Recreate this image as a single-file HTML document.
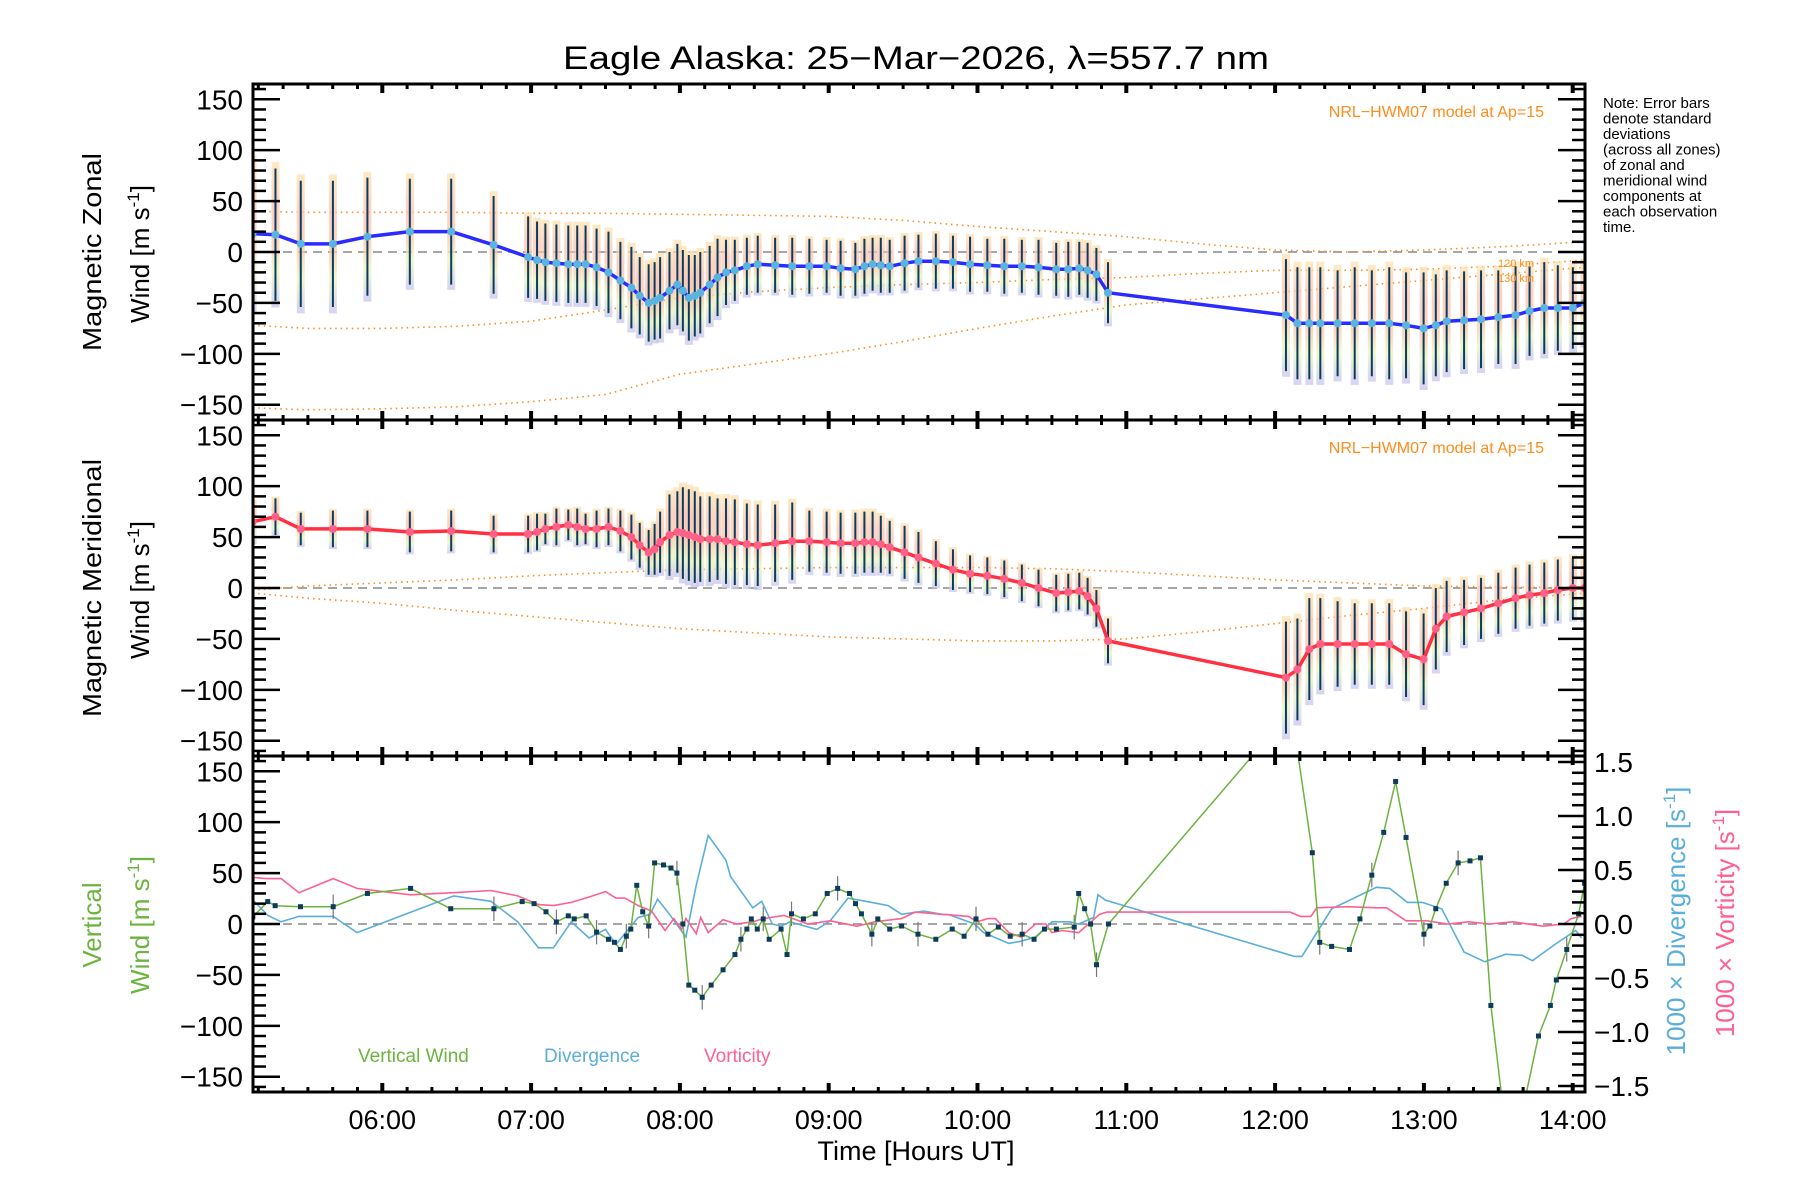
<!DOCTYPE html>
<html><head><meta charset="utf-8"><style>
html,body{margin:0;padding:0;background:#fff;}
svg{display:block;font-family:"Liberation Sans",sans-serif;}
</style></head><body>
<svg id="chart" width="1800" height="1200" viewBox="0 0 1800 1200" xmlns="http://www.w3.org/2000/svg">
<defs>
<linearGradient id="pastel" x1="0" y1="0" x2="0" y2="1">
<stop offset="0" stop-color="#fde3b0"/>
<stop offset="0.3" stop-color="#fbc2b0"/>
<stop offset="0.55" stop-color="#f9c8a8"/>
<stop offset="0.75" stop-color="#e6f5c0"/>
<stop offset="1" stop-color="#c8c4f0"/>
</linearGradient>
<clipPath id="clip0"><rect x="253" y="84" width="1332" height="336"/></clipPath>
<clipPath id="clip1"><rect x="253" y="420" width="1332" height="336"/></clipPath>
<clipPath id="clip2"><rect x="253" y="756" width="1332" height="336"/></clipPath>
</defs>
<text x="916" y="69" font-size="32" text-anchor="middle" textLength="706" lengthAdjust="spacingAndGlyphs">Eagle Alaska: 25−Mar−2026, λ=557.7 nm</text>
<g font-size="15">
<text x="1603" y="108">Note: Error bars</text>
<text x="1603" y="123.5">denote standard</text>
<text x="1603" y="139">deviations</text>
<text x="1603" y="154.5">(across all zones)</text>
<text x="1603" y="170">of zonal and</text>
<text x="1603" y="185.5">meridional wind</text>
<text x="1603" y="201">components at</text>
<text x="1603" y="216.5">each observation</text>
<text x="1603" y="232">time.</text>
</g>
<text transform="translate(101,252) rotate(-90)" font-size="26" text-anchor="middle" textLength="198" lengthAdjust="spacingAndGlyphs">Magnetic Zonal</text>
<text transform="translate(149,254) rotate(-90)" font-size="26" text-anchor="middle">Wind [m s<tspan dy="-10" font-size="17">-1</tspan><tspan dy="10">]</tspan></text>
<text transform="translate(101,588) rotate(-90)" font-size="26" text-anchor="middle" textLength="258" lengthAdjust="spacingAndGlyphs">Magnetic Meridional</text>
<text transform="translate(149,590) rotate(-90)" font-size="26" text-anchor="middle">Wind [m s<tspan dy="-10" font-size="17">-1</tspan><tspan dy="10">]</tspan></text>
<text transform="translate(101,925) rotate(-90)" font-size="26" fill="#6cb33f" text-anchor="middle">Vertical</text>
<text transform="translate(149,925) rotate(-90)" font-size="26" fill="#6cb33f" text-anchor="middle">Wind [m s<tspan dy="-10" font-size="17">-1</tspan><tspan dy="10">]</tspan></text>
<text transform="translate(1685,921) rotate(-90)" font-size="26" fill="#5aaedc" text-anchor="middle">1000 × Divergence [s<tspan dy="-10" font-size="17">-1</tspan><tspan dy="10">]</tspan></text>
<text transform="translate(1734,923) rotate(-90)" font-size="26" fill="#ff6090" text-anchor="middle">1000 × Vorticity [s<tspan dy="-10" font-size="17">-1</tspan><tspan dy="10">]</tspan></text>
<text x="916" y="1160" font-size="27" text-anchor="middle">Time [Hours UT]</text>
<text x="358" y="1062" font-size="19" fill="#6cb33f">Vertical Wind</text>
<text x="544" y="1062" font-size="19" fill="#5aaedc">Divergence</text>
<text x="704" y="1062" font-size="19" fill="#ff6090">Vorticity</text>
<g id="layer"></g>
</svg>
<script>
// ---- data ----
const obsTimesA = [5.128,5.282,5.452,5.668,5.900,6.185,6.463,6.748,6.980,7.096,7.250,7.366,7.520,7.674,7.790,7.867,7.983,8.060,8.137,8.253,8.369,8.523,8.755,8.986,9.179,9.295,9.410,9.603,9.835,10.066,10.298,10.529,10.684,10.799,10.877,12.073,12.150,12.304,12.535,12.767,12.998,13.153,13.384,13.616,13.809,14.001,14.079];
const zonalWindA = [18,17,8,8,15,20,20,7,-5,-10,-12,-12,-20,-35,-50,-45,-32,-45,-40,-25,-18,-12,-14,-14,-17,-12,-14,-9,-10,-13,-14,-17,-16,-22,-40,-62,-70,-70,-70,-70,-75,-68,-66,-62,-55,-55,-50];
const zonalErrA = [70,65,62,62,58,52,52,48,40,38,38,38,40,40,38,40,40,42,40,38,30,28,28,26,26,26,26,26,26,26,26,26,26,26,30,55,55,55,55,55,55,50,48,48,45,40,40];
const meridWindA = [65,70,58,58,58,55,56,53,53,58,62,58,60,50,35,45,55,52,48,48,45,42,46,45,44,45,40,30,18,12,5,-5,-3,-20,-52,-88,-80,-55,-55,-55,-70,-28,-20,-10,-5,0,0];
const meridErrA = [20,18,16,18,18,20,20,18,18,15,15,15,18,22,22,30,40,45,42,40,42,40,38,30,30,30,26,25,20,18,18,18,18,18,22,55,50,45,40,40,45,35,30,30,30,30,30];
const obsTimesB = [7.04,7.17,7.31,7.44,7.60,7.73,7.83,7.93,8.02,8.10,8.20,8.31,8.45,8.64,8.87,9.08,9.24,9.35,9.51,9.72,9.95,10.18,10.41,10.61,10.74,12.23,12.42,12.65,12.88,13.08,13.27,13.50,13.71,13.90];
const zonalWindB = [-8,-11,-12,-15,-28,-43,-48,-38,-38,-43,-32,-20,-14,-13,-14,-16,-14,-13,-11,-9,-12,-14,-15,-17,-18,-70,-70,-70,-72,-72,-67,-64,-58,-55];
const zonalErrB = [38,38,38,38,38,38,38,38,40,40,38,32,28,27,27,27,27,27,27,27,27,27,27,27,27,55,52,52,52,50,48,46,44,42];
const meridWindB = [55,60,60,58,56,42,38,52,54,50,48,46,43,44,46,44,45,43,35,24,14,9,0,-4,-8,-60,-55,-55,-65,-40,-24,-15,-7,-2];
const meridErrB = [18,18,18,18,20,22,25,40,45,45,42,42,40,38,30,30,30,28,26,22,18,18,18,18,18,50,42,40,42,40,32,30,30,30];
const vertTimes = [5.13,5.23,5.28,5.45,5.67,5.90,6.19,6.46,6.75,6.94,7.02,7.10,7.17,7.25,7.29,7.37,7.44,7.52,7.56,7.60,7.64,7.67,7.71,7.75,7.79,7.83,7.89,7.94,7.98,8.02,8.06,8.10,8.15,8.21,8.29,8.37,8.41,8.45,8.48,8.52,8.56,8.60,8.68,8.72,8.75,8.83,8.91,8.99,9.06,9.14,9.18,9.22,9.29,9.33,9.41,9.49,9.60,9.72,9.83,9.91,9.99,10.07,10.14,10.22,10.30,10.38,10.45,10.53,10.65,10.68,10.72,10.76,10.80,10.88,12.11,12.25,12.30,12.38,12.50,12.57,12.65,12.73,12.81,12.88,13.00,13.04,13.08,13.15,13.23,13.31,13.38,13.45,13.58,13.77,13.85,13.89,13.96,14.04,14.08];
const vertWind = [7,22,18,17,17,30,35,15,15,22,20,12,2,8,5,8,-8,-15,-18,-25,-12,-5,38,12,-2,60,58,55,50,0,-60,-65,-72,-60,-45,-30,-15,-5,5,-5,5,-15,-5,-30,10,5,10,30,35,30,20,10,-10,5,-5,-2,-10,-15,-5,-12,5,-10,-3,-12,-10,-15,-5,-5,-3,30,15,0,-40,0,210,70,-18,-22,-25,5,48,90,140,85,-10,-2,15,40,60,62,65,-80,-240,-110,-80,-55,-25,10,40];
const divTimes = [5.14,5.23,5.32,5.44,5.67,5.83,6.48,6.73,6.91,7.05,7.15,7.27,7.39,7.50,7.57,7.72,7.80,7.85,7.93,8.04,8.11,8.19,8.31,8.34,8.49,8.55,8.62,8.68,8.74,8.92,9.01,9.13,9.25,9.40,9.49,9.64,9.76,9.81,9.98,10.04,10.21,10.29,10.39,10.50,10.62,10.68,10.78,10.81,10.86,12.13,12.18,12.38,12.68,12.77,12.89,12.99,13.12,13.27,13.41,13.55,13.66,13.73,13.83,13.88,14.02,14.06];
const divergence = [0.21,0.08,0.02,0.07,0.07,-0.08,0.26,0.21,0.02,-0.22,-0.22,0.02,-0.13,-0.05,-0.19,0.06,0.09,0.23,0.09,-0.12,0.36,0.82,0.59,0.44,0.15,0.21,0,-0.02,0.02,-0.05,0.03,0.24,0.21,0.17,0.09,0.12,0.09,0.085,0,-0.08,-0.18,-0.16,-0.12,0.02,0.02,0,0.06,0.27,0.22,-0.30,-0.30,0.14,0.34,0.33,0.20,0.20,0.14,-0.26,-0.35,-0.28,-0.29,-0.34,-0.24,-0.19,-0.06,-0.13];
const vortTimes = [5.14,5.22,5.32,5.44,5.67,5.83,6.19,6.48,6.73,6.91,7.05,7.15,7.27,7.39,7.50,7.57,7.63,7.72,7.81,7.90,7.96,8.01,8.04,8.11,8.14,8.19,8.29,8.38,8.49,8.56,8.70,8.86,9.01,9.19,9.31,9.49,9.58,9.76,9.81,9.94,9.997,10.07,10.12,10.21,10.29,10.39,10.46,10.50,10.57,10.68,10.82,10.87,12.10,12.17,12.24,12.28,12.49,12.68,12.75,12.88,13.02,13.16,13.30,13.44,13.60,13.80,13.94,13.99,14.06];
const vorticity = [0.43,0.42,0.42,0.29,0.42,0.33,0.27,0.29,0.31,0.26,0.18,0.17,0.2,0.25,0.3,0.24,0.24,0.17,0.12,-0.06,0.05,-0.05,0.05,-0.09,0.06,-0.08,0.04,0,0.02,0.05,0.08,0,0.03,-0.02,0.02,0.05,0.11,0.09,0.085,0.07,0.02,0.05,0.05,-0.08,-0.12,0,0,-0.08,-0.06,-0.08,0.09,0.11,0.11,0.07,0.07,0.15,0.16,0.15,0.15,0.03,0.03,0,0.02,0,0.02,-0.02,0,0.05,0.07];
const modelTimes = [5.13,5.5,6.0,6.5,7.0,7.5,8.0,8.5,9.0,9.5,10.0,10.5,11.0,11.5,12.0,12.5,13.0,13.5,14.08];
const zonalModelUpper = [40,39,39,39,38,38,37,36,35,31,25,20,15,8,2,0,2,5,10];
const zonalModel120 = [-72,-75,-75,-73,-68,-57,-45,-39,-35,-32,-30,-27,-25,-21,-18,-18,-17,-14,-8];
const zonalModel130 = [-153,-155,-154,-152,-147,-140,-120,-110,-100,-88,-75,-63,-52,-46,-40,-34,-28,-22,-15];
const meridModelUpper = [-2,2,5,8,12,15,18,19,20,20,20,19,16,12,8,5,2,1,0];
const meridModelLower = [-5,-10,-15,-22,-28,-34,-40,-44,-48,-50,-52,-52,-50,-43,-35,-27,-20,-12,-5];
const leftTicks = [150,100,50,0,-50,-100,-150];
const rightTicks = [1.5,1.0,0.5,0.0,-0.5,-1.0,-1.5];
const hourLabels = ["06:00","07:00","08:00","09:00","10:00","11:00","12:00","13:00","14:00"];
const hourValues = [6,7,8,9,10,11,12,13,14];

// merge observation sets by time
const allT = obsTimesA.concat(obsTimesB);
const order = allT.map((t,i)=>i).sort((a,b)=>allT[a]-allT[b]);
const pick = (a,b)=>{const c=a.concat(b);return order.map(i=>c[i]);};
const obsTimes = order.map(i=>allT[i]);
const zonalWind = pick(zonalWindA,zonalWindB);
const zonalErr = pick(zonalErrA,zonalErrB);
const meridWind = pick(meridWindA,meridWindB);
const meridErr = pick(meridErrA,meridErrB);

// ---- axes ----
const NS='http://www.w3.org/2000/svg';
const L=253,R=1585,PH=336,tops=[84,420,756];
const X=t=>382.3+(t-6)*148.8;
const Y=(v,p)=>tops[p]+168-v*PH/330;
const YR=v=>tops[2]+168-v*108;
const layer=document.getElementById('layer');
function mk(tag,a,parent){const e=document.createElementNS(NS,tag);for(const k in a)e.setAttribute(k,a[k]);(parent||layer).appendChild(e);return e;}
function pts(ts,vs,f){return ts.map((t,i)=>X(t).toFixed(1)+','+f(vs[i]).toFixed(1)).join(' ');}

const panelNames=['zonal','meridional','vertical'];
const groups=[];
for(let p=0;p<3;p++){
  const g=mk('g',{'clip-path':'url(#clip'+p+')'});
  
  
  groups.push(g);
  const z=mk('line',{x1:L,x2:R,y1:Y(0,p),y2:Y(0,p),stroke:'#888','stroke-width':1.5,'stroke-dasharray':'9,6'},g);
  
  
}

function model(vals,p,name){
  const e=mk('polyline',{points:pts(modelTimes,vals,v=>Y(v,p)),fill:'none',stroke:'#ff8c1a','stroke-width':1.6,'stroke-dasharray':'1.5,4'},groups[p]);
  
  
}
model(zonalModelUpper,0,'zonal-model-upper');
model(zonalModel120,0,'zonal-model-120km');
model(zonalModel130,0,'zonal-model-130km');
model(meridModelUpper,1,'meridional-model-upper');
model(meridModelLower,1,'meridional-model-lower');

function obsPanel(vals,errs,p,lineColor,dotColor,name){
  const g=groups[p];
  obsTimes.forEach((t,i)=>{
    const c=mk('rect',{x:X(t)-4,y:Y(vals[i]+errs[i]*1.1,p),width:8,height:errs[i]*2.2*PH/330,fill:'url(#pastel)',opacity:0.75},g);
    
    
  });
  obsTimes.forEach((t,i)=>{
    const e=mk('line',{x1:X(t),x2:X(t),y1:Y(vals[i]+errs[i],p),y2:Y(vals[i]-errs[i],p),stroke:'#0d3b5c','stroke-width':2},g);
    
    
  });
  const l=mk('polyline',{points:pts(obsTimes,vals,v=>Y(v,p)),fill:'none',stroke:lineColor,'stroke-width':3.5,'stroke-linejoin':'round'},g);
  
  
  obsTimes.forEach((t,i)=>{
    const d=mk('circle',{cx:X(t),cy:Y(vals[i],p),r:4,fill:dotColor},g);
    
    
  });
}
obsPanel(zonalWind,zonalErr,0,'#2b2bff','#5ab4e0','zonal-wind');
obsPanel(meridWind,meridErr,1,'#ff3040','#ff6088','meridional-wind');

{
  const g=groups[2];
  const dv=mk('polyline',{points:pts(divTimes,divergence,YR),fill:'none',stroke:'#5aaedc','stroke-width':1.6},g);
  
  
  const vo=mk('polyline',{points:pts(vortTimes,vorticity,YR),fill:'none',stroke:'#ff6090','stroke-width':1.6},g);
  
  
  vertTimes.forEach((t,i)=>{
    if(i%4===0){
      const e=mk('line',{x1:X(t),x2:X(t),y1:Y(vertWind[i]+12,2),y2:Y(vertWind[i]-12,2),stroke:'#777','stroke-width':1.2},g);
      
      
    }
  });
  const vw=mk('polyline',{points:pts(vertTimes,vertWind,v=>Y(v,2)),fill:'none',stroke:'#6cb33f','stroke-width':1.5},g);
  
  
  vertTimes.forEach((t,i)=>{
    const d=mk('rect',{x:X(t)-2.5,y:Y(vertWind[i],2)-2.5,width:5,height:5,fill:'#0d3b5c'},g);
    
    
  });
}

for(let p=0;p<3;p++){
  const t=tops[p];
  const f=mk('rect',{x:L,y:t,width:R-L,height:PH,fill:'none',stroke:'#000','stroke-width':3});
  
  
  for(let v=-160;v<=160;v+=10){
    const y=Y(v,p), major=(v%50===0);
    const len=major?27:13;
    const tl=mk('line',{x1:L,x2:L+len,y1:y,y2:y,stroke:'#000','stroke-width':2.5});
    
    
    if(p<2){
      const tr=mk('line',{x1:R,x2:R-len,y1:y,y2:y,stroke:'#000','stroke-width':2.5});
      
      
    }
  }
  leftTicks.forEach(v=>{
    const lb=mk('text',{x:243,y:Y(v,p)+10,'font-size':28,'text-anchor':'end'});
    lb.textContent=(v<0?'−'+(-v):String(v));
    
    
  });
  for(let m=10;m<=14*60;m+=10){
    const tt=5+m/60; if(tt<5.13||tt>14.08) continue;
    const x=X(tt), major=(m%60===0), len=major?9:5;
    const a=mk('line',{x1:x,x2:x,y1:t,y2:t+len,stroke:'#000','stroke-width':major?4:3});
    
    
    const b=mk('line',{x1:x,x2:x,y1:t+PH,y2:t+PH-len,stroke:'#000','stroke-width':major?4:3});
    
    
  }
}
for(let v=-1.5;v<=1.55;v+=0.1){
  const major=Math.abs(Math.round(v*10)%5)===0;
  const y=YR(v);
  const tr=mk('line',{x1:R,x2:R-(major?27:13),y1:y,y2:y,stroke:'#000','stroke-width':2.5});
  
  
}
rightTicks.forEach(v=>{
  const lb=mk('text',{x:1594,y:YR(v)+10,'font-size':28});
  lb.textContent=(v<0?'−'+(-v).toFixed(1):v.toFixed(1));
  
  
});
hourLabels.forEach((s,i)=>{
  const lb=mk('text',{x:X(hourValues[i]),y:1129,'font-size':27,'text-anchor':'middle'});
  lb.textContent=s;
  
  
});
[0,1].forEach(p=>{
  const lb=mk('text',{x:1544,y:tops[p]+33,'font-size':16,fill:'#ff8c1a','text-anchor':'end'});
  lb.textContent='NRL−HWM07 model at Ap=15';
  
  
});
const k1=mk('text',{x:1498,y:267,'font-size':11,fill:'#ff8c1a'});
k1.textContent='120 km';


const k2=mk('text',{x:1498,y:282,'font-size':11,fill:'#ff8c1a'});
k2.textContent='130 km';


</script>
</body></html>
